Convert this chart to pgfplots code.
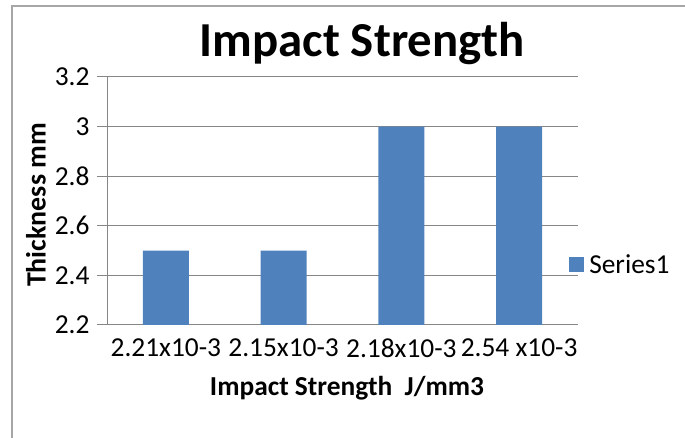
\documentclass[border=0pt]{standalone}
\usepackage{fontspec}
\setmainfont{Carlito}
\usepackage{pgfplots}
\pgfplotsset{compat=1.18}

\definecolor{barblue}{HTML}{4F81BD}
\definecolor{gridgray}{HTML}{868686}
\definecolor{framegray}{HTML}{A6A6A6}

\begin{document}
\begin{tikzpicture}[x=1bp,y=1bp]
  % canvas and chart frame (left and top edges)
  \path[use as bounding box] (0,0) rectangle (685,438);
  \fill[framegray] (11,0) rectangle (13,433);
  \fill[framegray] (11,431) rectangle (685,433);

  \node[font=\fontsize{49}{56}\selectfont\bfseries] at (362,394) {Impact Strength};
  \node[font=\fontsize{28}{32}\selectfont\bfseries, rotate=90] at (36,233) {Thickness mm};
  \node[font=\fontsize{27.5}{32}\selectfont\bfseries] at (347,50) {Impact Strength\ \ J/mm3};

  \begin{axis}[
    at={(107bp,113bp)}, anchor=south west,
    scale only axis,
    width=471bp, height=248bp,
    xmin=-0.5, xmax=3.5,
    ymin=2.2, ymax=3.2,
    ytick={2.2,2.4,2.6,2.8,3,3.2},
    yticklabels={2.2,2.4,2.6,2.8,3,3.2},
    xtick={0,1,2,3},
    xticklabels={2.21x10-3,2.15x10-3,2.18x10-3,2.54 x10-3},
    axis x line*=bottom, axis y line*=left,
    axis line style={gridgray, line width=1bp, -},
    ymajorgrids,
    major grid style={gridgray, line width=1bp},
    tick align=outside,
    major tick length=10bp,
    ytick style={gridgray, line width=1bp},
    xtick style={draw=none},
    ticklabel style={font=\fontsize{27.5}{32}\selectfont},
    yticklabel style={xshift=-4bp},
    /pgf/number format/assume math mode=true,
    legend style={draw=none, fill=none, at={(0.981,0.242)}, anchor=west,
      font=\fontsize{27.5}{32}\selectfont, inner sep=0pt,
      nodes={inner xsep=5bp}},
    legend image code/.code={\fill[#1] (0bp,-7.5bp) rectangle (15bp,7.5bp);},
  ]
    \addplot[ybar, bar width=46bp, fill=barblue, draw=none]
      coordinates {(0,2.5) (1,2.5) (2,3) (3,3)};
    \addlegendentry{Series1}
  \end{axis}
\end{tikzpicture}
\end{document}
